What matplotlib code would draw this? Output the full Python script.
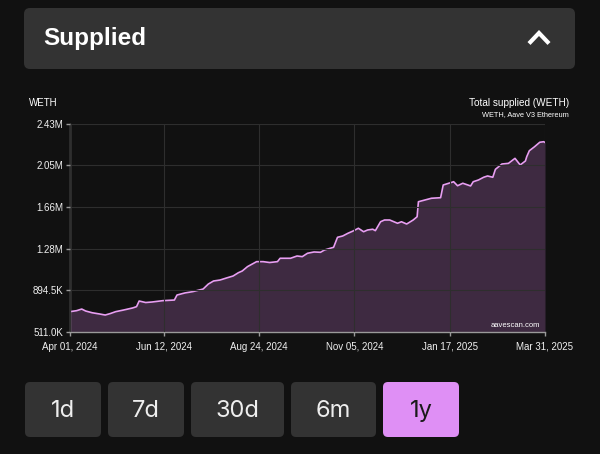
import matplotlib.pyplot as plt
from matplotlib.patches import FancyBboxPatch
import pandas as pd

plt.rcParams["font.family"] = ["Liberation Sans", "DejaVu Sans"]

# data (days after Apr 01 2024, supplied WETH in thousands)
day_offsets = [0, 5, 9, 12, 17, 23, 27, 31, 35, 41, 48, 51, 53, 58, 63, 71, 80, 82, 88, 94,
               102, 106, 110, 115, 120, 125, 129, 132, 136, 143, 148, 153, 159, 161, 169,
               174, 178, 182, 187, 192, 195, 202, 205, 209, 213, 217, 221, 225, 228, 232,
               234, 238, 241, 245, 251, 254, 258, 263, 266, 267, 272, 277, 284, 286, 294,
               297, 301, 307, 309, 313, 317, 320, 324, 326, 331, 336, 341, 345, 349, 350,
               352, 356, 360, 363, 364]
supplied_k = [698, 707, 722, 704, 688, 676, 667, 681, 698, 713, 732, 744, 796, 782, 787, 799,
              805, 851, 870, 882, 906, 952, 980, 989, 1008, 1026, 1056, 1072, 1112, 1158, 1158,
              1150, 1158, 1189, 1189, 1210, 1204, 1235, 1247, 1244, 1265, 1290, 1382, 1394,
              1419, 1440, 1465, 1433, 1449, 1456, 1443, 1525, 1541, 1541, 1511, 1525, 1504,
              1541, 1571, 1709, 1725, 1741, 1746, 1863, 1893, 1856, 1879, 1854, 1893, 1909,
              1934, 1946, 1934, 2007, 2056, 2062, 2108, 2047, 2084, 2123, 2178, 2215, 2256,
              2261, 2254]
y_ticks = [511.0, 894.5, 1278.0, 1661.5, 2045.0, 2428.5]
y_labels = ["511.0K", "894.5K", "1.28M", "1.66M", "2.05M", "2.43M"]
x_ticks = ["2024-04-01", "2024-06-12", "2024-08-24", "2024-11-05", "2025-01-17", "2025-03-31"]
x_labels = ["Apr 01, 2024", "Jun 12, 2024", "Aug 24, 2024", "Nov 05, 2024", "Jan 17, 2025", "Mar 31, 2025"]
buttons = ["1d", "7d", "30d", "6m", "1y"]

dates = pd.Timestamp("2024-04-01") + pd.to_timedelta(day_offsets, unit="D")

bg = "#111111"
panel = "#333333"
pink = "#e89ef2"

fig = plt.figure(figsize=(6, 4.54), dpi=100, facecolor=bg)

# background layer in pixel coordinates for the header and buttons
bgax = fig.add_axes([0, 0, 1, 1], zorder=0)
bgax.set_xlim(0, 600)
bgax.set_ylim(454, 0)
bgax.axis("off")

bgax.add_patch(FancyBboxPatch((24, 8), 551, 61, boxstyle="round,pad=0,rounding_size=6",
                              fc=panel, ec="none"))
bgax.text(43, 38.5, "Supplied", color="white", fontsize=17.5, fontweight="bold", va="center")
bgax.plot([529, 539, 549], [43.5, 33, 43.5], color="white", lw=3, solid_capstyle="butt",
          solid_joinstyle="miter")

btn_x = [25, 108, 191, 291, 383]
btn_w = [76, 76, 93, 85, 76]
for lab, bx, bw in zip(buttons, btn_x, btn_w):
    sel = lab == "1y"
    bgax.add_patch(FancyBboxPatch((bx, 382), bw, 55, boxstyle="round,pad=0,rounding_size=5",
                                  fc="#df8ff5" if sel else panel, ec="none"))
    bgax.text(bx + bw / 2, 411, lab, color="#1a1a1a" if sel else "#eeeeee", fontsize=17,
              ha="center", va="center", family=["Inter", "DejaVu Sans"])

bgax.text(29, 103, "WETH", color="white", fontsize=7, va="center")
bgax.text(569, 103, "Total supplied (WETH)", color="white", fontsize=7.2, va="center", ha="right")
bgax.text(569, 115, "WETH, Aave V3 Ethereum", color="white", fontsize=5.3, va="center", ha="right")

# chart
ax = fig.add_axes([70 / 600, 1 - 332 / 454, 475 / 600, 208.5 / 454], zorder=1)
ax.set_facecolor("none")
ax.fill_between(dates, supplied_k, y_ticks[0], color="#3e2a41", lw=0)
ax.plot(dates, supplied_k, color=pink, lw=1.2)

ax.set_ylim(y_ticks[0], y_ticks[-1])
ax.set_xlim(pd.Timestamp(x_ticks[0]), pd.Timestamp(x_ticks[-1]))
ax.set_yticks(y_ticks)
ax.set_yticklabels(y_labels)
ax.set_xticks([pd.Timestamp(d) for d in x_ticks])
ax.set_xticklabels(x_labels)
ax.grid(True, color="#2e2e2e", lw=0.8)
ax.set_axisbelow(False)
for side in ["top", "right"]:
    ax.spines[side].set_visible(False)
for side in ["left", "bottom"]:
    ax.spines[side].set_color("#9a9a9a")
    ax.spines[side].set_linewidth(1)
ax.tick_params(axis="both", colors="#9a9a9a", labelcolor="#f0f0f0", labelsize=7, length=3, width=1)
ax.tick_params(axis="y", pad=2)
ax.tick_params(axis="x", pad=4)
ax.text(0.99, 0.015, "aavescan.com", transform=ax.transAxes, color="white", fontsize=5.5,
        ha="right", va="bottom")

fig.savefig("out.png", dpi=100, facecolor=bg)
